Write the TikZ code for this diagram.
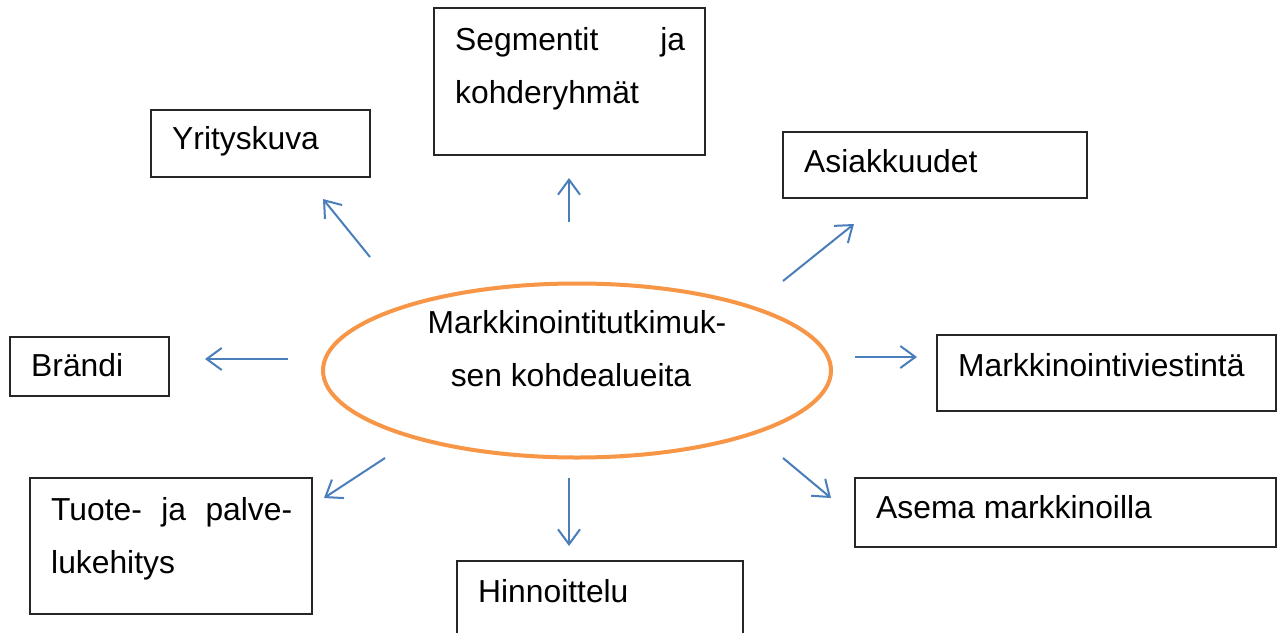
\documentclass[tikz,border=0pt]{standalone}
\usepackage{fontspec}
\setmainfont{Liberation Sans}
\usetikzlibrary{arrows.meta}
\definecolor{arrowblue}{HTML}{4A7EBB}
\definecolor{ringorange}{HTML}{F79646}
\tikzset{
  topicbox/.style={draw=black!85, line width=1.3pt, inner sep=0pt},
  label/.style={anchor=base west, inner sep=0pt, font=\fontsize{31.8}{38}\selectfont},
  pointer/.style={draw=arrowblue, line width=2pt, -{Straight Barb[length=15pt,width=22pt,line width=2pt]}}
}
\begin{document}
\begin{tikzpicture}[x=1pt,y=-1pt]
\useasboundingbox (0,0) rectangle (1277,632);
\fill[white] (0,0) rectangle (1277,632);

% central ellipse
\draw[ringorange, line width=4pt] (577,370.5) ellipse [x radius=254, y radius=87] node (core) {};
\node[label, anchor=base] (c1) at (577,333) {Markkinointitutkimuk-};
\node[label, anchor=base] (c2) at (571,386) {sen kohdealueita};

% surrounding boxes
\draw[topicbox] (434,8) rectangle (705,155) coordinate (segbox);
\node[label] (seg1) at (455,50) {\hbox to 230pt{Segmentit\hfill ja}};
\node[label] (seg2) at (455,103) {kohderyhmät};

\draw[topicbox] (151,110) rectangle (370,177) coordinate (yribox);
\node[label] (yri) at (172,149) {Yrityskuva};

\draw[topicbox] (783,132) rectangle (1087,198) coordinate (asibox);
\node[label] (asi) at (804,172) {Asiakkuudet};

\draw[topicbox] (10,337) rectangle (169,396) coordinate (brabox);
\node[label] (bra) at (31,376) {Brändi};

\draw[topicbox] (937,335) rectangle (1276,411) coordinate (viebox);
\node[label] (vie) at (958,376) {Markkinointiviestintä};

\draw[topicbox] (30,478) rectangle (312,614) coordinate (tuobox);
\node[label] (tuo1) at (51,520) {\hbox to 241pt{Tuote-\hfill ja\hfill palve-}};
\node[label] (tuo2) at (51,573) {lukehitys};

\draw[topicbox] (855,478) rectangle (1276,547) coordinate (asebox);
\node[label] (ase) at (876,518) {Asema markkinoilla};

\draw[topicbox] (457,561) rectangle (743,640) coordinate (hinbox);
\node[label] (hin) at (478,602) {Hinnoittelu};

% arrow end points
\coordinate (aS) at (569,222);  \coordinate (aE) at (569,178);
\coordinate (bS) at (370,257);  \coordinate (bE) at (323,199);
\coordinate (cS) at (783,281);  \coordinate (cE) at (854,224);
\coordinate (dS) at (288,359);  \coordinate (dE) at (205,359);
\coordinate (eS) at (855,357);  \coordinate (eE) at (917,357);
\coordinate (fS) at (385,458);  \coordinate (fE) at (324,498);
\coordinate (gS) at (569,478);  \coordinate (gE) at (569,546);
\coordinate (hS) at (783,458);  \coordinate (hE) at (831,498);

\draw[pointer] (aS) -- (aE);
\draw[pointer] (bS) -- (bE);
\draw[pointer] (cS) -- (cE);
\draw[pointer] (dS) -- (dE);
\draw[pointer] (eS) -- (eE);
\draw[pointer] (fS) -- (fE);
\draw[pointer] (gS) -- (gE);
\draw[pointer] (hS) -- (hE);
\end{tikzpicture}
\end{document}
